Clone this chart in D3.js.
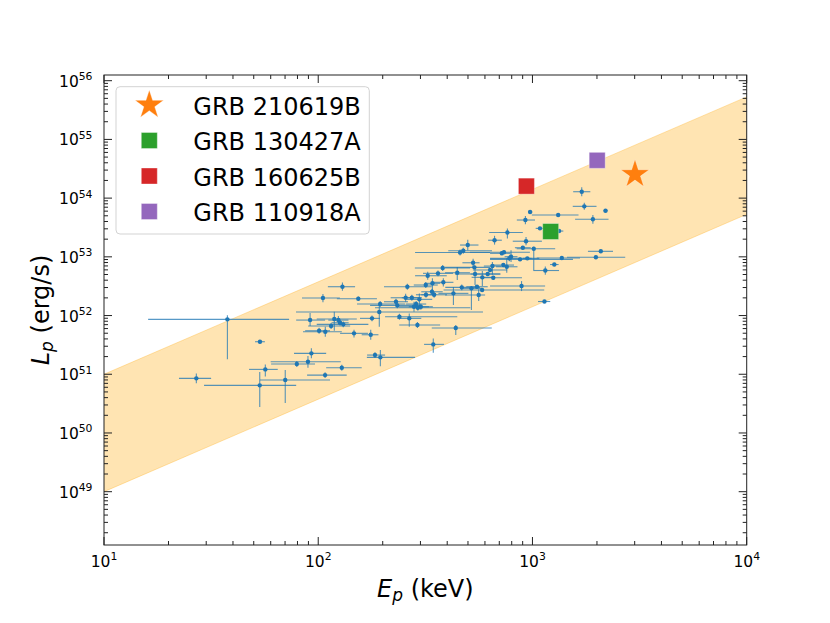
<!DOCTYPE html>
<html>
<head>
<meta charset="utf-8">
<script src="https://cdn.jsdelivr.net/npm/d3@7"></script>
<style>
  body { margin: 0; background: #fff; }
  svg { font-family: 'DejaVu Sans', sans-serif; }
</style>
</head>
<body>
<svg id="chart"></svg>
<script>
// sample: log10 Ep (keV), log10 Lp (erg/s), errors in dex (lo / hi)
const logEp = [1.576, 1.728, 1.431, 1.753, 1.727, 1.846, 1.900, 1.952, 2.113, 2.022,
  2.187, 1.962, 2.075, 2.094, 2.102, 2.117, 2.060, 2.004, 2.033, 2.167,
  2.245, 2.251, 2.285, 2.289, 2.363, 2.369, 2.408, 2.416, 2.437, 2.447,
  2.457, 2.465, 2.472, 2.479, 2.503, 2.502, 2.533, 2.541, 2.531, 2.511,
  2.559, 2.581, 2.584, 2.631, 2.649, 2.670, 2.662, 2.677, 2.698, 2.379,
  2.425, 2.463, 2.642, 2.537, 2.265, 2.290, 1.968, 2.110, 2.032, 3.242,
  3.230, 3.341, 2.989, 3.120, 2.967, 3.282, 3.035, 3.124, 2.883, 2.823,
  2.970, 2.955, 3.006, 2.857, 2.867, 2.900, 2.892, 2.942, 2.976, 3.137,
  3.319, 3.296, 3.102, 3.060, 2.949, 3.056, 2.723, 2.729, 2.813, 2.802,
  2.864, 2.880, 2.732, 2.766, 2.791, 2.817, 2.715, 2.741, 2.765, 2.749]
const logLp = [51.935, 51.554, 50.930, 51.083, 50.811, 50.901, 51.174, 51.213, 52.491, 52.298,
  52.286, 51.923, 51.940, 51.923, 51.877, 51.850, 51.821, 51.741, 51.724, 51.697,
  51.673, 51.952, 52.060, 52.196, 52.235, 52.174, 52.303, 52.491, 52.303, 52.150,
  52.196, 52.133, 52.276, 52.150, 52.354, 52.520, 52.549, 52.354, 52.405, 52.678,
  52.719, 52.809, 52.566, 52.378, 52.729, 52.480, 53.073, 53.104, 53.201, 51.980,
  51.952, 51.838, 51.787, 51.509, 51.327, 51.288, 51.356, 51.111, 50.986, 53.860,
  54.109, 53.785, 53.763, 53.712, 53.627, 53.639, 53.485, 53.439, 53.414, 53.283,
  53.266, 53.155, 53.138, 53.060, 53.077, 53.002, 52.974, 52.957, 52.974, 52.980,
  53.094, 52.993, 52.869, 52.767, 52.502, 52.239, 52.899, 52.821, 52.843, 52.775,
  52.860, 52.831, 52.707, 52.651, 52.707, 52.644, 52.463, 52.491, 52.434, 52.349]
const epErrLo = [0.370, 0.023, 0.081, 0.076, 0.260, 0.118, 0.120, 0.174, 0.068, 0.098,
  0.100, 0.065, 0.082, 0.047, 0.040, 0.124, 0.107, 0.065, 0.104, 0.065,
  0.042, 0.056, 0.389, 0.108, 0.056, 0.127, 0.070, 0.109, 0.047, 0.070,
  0.047, 0.200, 0.060, 0.056, 0.047, 0.056, 0.037, 0.060, 0.050, 0.059,
  0.070, 0.130, 0.047, 0.070, 0.057, 0.077, 0.210, 0.070, 0.036, 0.067,
  0.056, 0.085, 0.112, 0.043, 0.037, 0.063, 0.081, 0.073, 0.084, 0.054,
  0.040, 0.010, 0.010, 0.123, 0.040, 0.083, 0.020, 0.020, 0.085, 0.030,
  0.062, 0.037, 0.080, 0.055, 0.159, 0.030, 0.090, 0.140, 0.020, 0.117,
  0.060, 0.135, 0.020, 0.056, 0.147, 0.030, 0.050, 0.137, 0.040, 0.080,
  0.050, 0.050, 0.093, 0.050, 0.080, 0.062, 0.050, 0.050, 0.180, 0.157]
const epErrHi = [0.288, 0.023, 0.069, 0.058, 0.170, 0.209, 0.085, 0.153, 0.059, 0.079,
  0.087, 0.070, 0.105, 0.047, 0.040, 0.117, 0.089, 0.051, 0.077, 0.065,
  0.036, 0.037, 0.484, 0.117, 0.056, 0.106, 0.070, 0.114, 0.047, 0.070,
  0.047, 0.245, 0.060, 0.056, 0.047, 0.056, 0.037, 0.060, 0.050, 0.089,
  0.070, 0.128, 0.047, 0.070, 0.059, 0.085, 0.140, 0.134, 0.050, 0.270,
  0.056, 0.106, 0.168, 0.050, 0.047, 0.162, 0.069, 0.093, 0.101, 0.057,
  0.040, 0.010, 0.010, 0.095, 0.045, 0.073, 0.020, 0.020, 0.072, 0.034,
  0.074, 0.037, 0.100, 0.040, 0.121, 0.030, 0.140, 0.247, 0.020, 0.085,
  0.057, 0.137, 0.020, 0.064, 0.110, 0.027, 0.030, 0.073, 0.040, 0.080,
  0.050, 0.050, 0.117, 0.050, 0.060, 0.134, 0.050, 0.050, 0.290, 0.030]
const lpErrLo = [0.680, 0.030, 0.085, 0.120, 0.370, 0.390, 0.050, 0.100, 0.070, 0.070,
  0.040, 0.100, 0.200, 0.070, 0.050, 0.050, 0.050, 0.050, 0.085, 0.070,
  0.085, 0.050, 0.250, 0.050, 0.050, 0.050, 0.070, 0.050, 0.050, 0.085,
  0.050, 0.050, 0.153, 0.050, 0.050, 0.050, 0.170, 0.050, 0.050, 0.070,
  0.050, 0.050, 0.070, 0.200, 0.125, 0.050, 0.050, 0.050, 0.090, 0.050,
  0.143, 0.050, 0.120, 0.143, 0.050, 0.150, 0.085, 0.050, 0.050, 0.060,
  0.075, 0.010, 0.010, 0.030, 0.070, 0.075, 0.020, 0.020, 0.100, 0.075,
  0.070, 0.030, 0.365, 0.030, 0.030, 0.090, 0.050, 0.030, 0.020, 0.030,
  0.030, 0.030, 0.020, 0.070, 0.085, 0.020, 0.070, 0.030, 0.150, 0.030,
  0.030, 0.100, 0.187, 0.148, 0.030, 0.030, 0.370, 0.030, 0.030, 0.100]
const lpErrHi = [0.070, 0.030, 0.085, 0.085, 0.227, 0.170, 0.050, 0.100, 0.070, 0.070,
  0.040, 0.120, 0.125, 0.070, 0.050, 0.050, 0.050, 0.050, 0.085, 0.060,
  0.085, 0.050, 0.120, 0.050, 0.050, 0.050, 0.070, 0.050, 0.050, 0.085,
  0.050, 0.050, 0.100, 0.050, 0.050, 0.050, 0.085, 0.050, 0.050, 0.070,
  0.050, 0.050, 0.070, 0.110, 0.100, 0.050, 0.050, 0.050, 0.090, 0.050,
  0.085, 0.050, 0.050, 0.100, 0.050, 0.125, 0.085, 0.050, 0.050, 0.060,
  0.075, 0.010, 0.010, 0.030, 0.070, 0.075, 0.020, 0.020, 0.070, 0.075,
  0.070, 0.030, 0.035, 0.030, 0.030, 0.110, 0.050, 0.030, 0.020, 0.030,
  0.030, 0.030, 0.020, 0.070, 0.085, 0.020, 0.070, 0.030, 0.070, 0.030,
  0.030, 0.150, 0.136, 0.107, 0.030, 0.030, 0.040, 0.030, 0.030, 0.100]

// highlighted bursts
const grbNames = ['GRB 210619B', 'GRB 130427A', 'GRB 160625B', 'GRB 110918A']
const grbEp = [3010, 1216, 937, 2005]
const grbLp = [2.54e54, 2.7e53, 1.6e54, 4.4e54]
const grbColors = ['#ff7f0e', '#2ca02c', '#d62728', '#9467bd']
const grbShapes = ['star', 'square', 'square', 'square']

// band edges
const bandEp = [10, 1e4]
const bandUpper = [1e51, 5.3e55]
const bandLower = [1e49, 5.3e53]

const xTickExp = [1, 2, 3, 4]
const yTickExp = [49, 50, 51, 52, 53, 54, 55, 56]

const width = 830
const height = 623
const margin = { top: 75, right: 83.3, bottom: 78, left: 104 }

const svg = d3.select('#chart').attr('width', width).attr('height', height)

const xScale = d3.scaleLog()
  .domain([10, 1e4])
  .range([margin.left, width - margin.right])
const yScale = d3.scaleLog()
  .domain([Math.pow(10, 48.092), Math.pow(10, 56.097)])
  .range([height - margin.bottom, margin.top])

const x0 = margin.left
const x1 = width - margin.right
const y0 = height - margin.bottom
const y1 = margin.top

// band
const area = d3.area()
  .x((d, i) => xScale(bandEp[i]))
  .y0((d, i) => yScale(bandLower[i]))
  .y1((d, i) => yScale(bandUpper[i]))
svg.append('path')
  .attr('d', area(bandEp))
  .attr('fill', 'orange')
  .attr('fill-opacity', 0.3)
const edge = d3.line().x((d, i) => xScale(bandEp[i])).y(d => yScale(d))
;[bandUpper, bandLower].forEach(b => {
  svg.append('path')
    .attr('d', edge(b))
    .attr('fill', 'none')
    .attr('stroke', 'orange')
    .attr('stroke-opacity', 0.3)
    .attr('stroke-width', 1)
})

// error bars + points
const pts = logEp.map((e, i) => ({
  e, l: logLp[i],
  exl: epErrLo[i], exh: epErrHi[i], eyl: lpErrLo[i], eyh: lpErrHi[i]
}))
const p10 = v => Math.pow(10, v)
const gErr = svg.append('g')
  .attr('stroke', '#1f77b4')
  .attr('stroke-width', 1.1)
  .attr('stroke-opacity', 0.75)
gErr.selectAll('line.h')
  .data(pts).enter().append('line')
  .attr('x1', d => xScale(p10(d.e - d.exl)))
  .attr('x2', d => xScale(p10(d.e + d.exh)))
  .attr('y1', d => yScale(p10(d.l)))
  .attr('y2', d => yScale(p10(d.l)))
gErr.selectAll('line.v')
  .data(pts).enter().append('line')
  .attr('x1', d => xScale(p10(d.e)))
  .attr('x2', d => xScale(p10(d.e)))
  .attr('y1', d => yScale(p10(d.l - d.eyl)))
  .attr('y2', d => yScale(p10(d.l + d.eyh)))
svg.append('g')
  .selectAll('circle')
  .data(pts).enter().append('circle')
  .attr('cx', d => xScale(p10(d.e)))
  .attr('cy', d => yScale(p10(d.l)))
  .attr('r', 2.2)
  .attr('fill', '#1f77b4')

// highlighted markers
const starSym = d3.symbol().type(d3.symbolStar).size(15 * 15 / 0.8908)
const sqSym = d3.symbol().type(d3.symbolSquare).size(16 * 16)
const sym = s => (s === 'star' ? starSym : sqSym)()
grbNames.forEach((n, i) => {
  svg.append('path')
    .attr('d', sym(grbShapes[i]))
    .attr('transform', `translate(${xScale(grbEp[i])},${yScale(grbLp[i])})`)
    .attr('fill', grbColors[i])
    .attr('stroke', '#fff')
    .attr('stroke-opacity', 0.35)
    .attr('stroke-width', 1)
})

// frame
svg.append('rect')
  .attr('x', x0).attr('y', y1)
  .attr('width', x1 - x0).attr('height', y0 - y1)
  .attr('fill', 'none')
  .attr('stroke', '#222')
  .attr('stroke-width', 1)

// ticks (inward, all sides)
const minor = []
const xMinor = []
for (let e = 48; e <= 56; e++) {
  for (let m = 1; m < 10; m++) minor.push({ v: m * Math.pow(10, e), major: m === 1 })
}
for (let e = 1; e <= 4; e++) {
  for (let m = 1; m < 10; m++) xMinor.push({ v: m * Math.pow(10, e), major: m === 1 })
}
const yDom = yScale.domain()
const gTicks = svg.append('g').attr('stroke', '#222').attr('stroke-width', 1)
minor.filter(t => t.v >= yDom[0] && t.v <= yDom[1]).forEach(t => {
  const y = yScale(t.v)
  const len = t.major ? 8 : 4
  gTicks.append('line').attr('x1', x0).attr('x2', x0 + len).attr('y1', y).attr('y2', y)
  gTicks.append('line').attr('x1', x1).attr('x2', x1 - len).attr('y1', y).attr('y2', y)
})
xMinor.filter(t => t.v >= 10 && t.v <= 1e4).forEach(t => {
  const x = xScale(t.v)
  const len = t.major ? 8 : 4
  gTicks.append('line').attr('x1', x).attr('x2', x).attr('y1', y0).attr('y2', y0 - len)
  gTicks.append('line').attr('x1', x).attr('x2', x).attr('y1', y1).attr('y2', y1 + len)
})

// tick labels
yTickExp.forEach(e => {
  const t = svg.append('text')
    .attr('x', x0 - 11.5)
    .attr('y', yScale(Math.pow(10, e)) + 6)
    .attr('text-anchor', 'end')
    .attr('font-size', 15.5)
    .attr('fill', '#000')
  t.append('tspan').text('10')
  t.append('tspan').attr('dy', -6.5).attr('font-size', 10.8).text(e)
})
xTickExp.forEach(e => {
  const t = svg.append('text')
    .attr('x', xScale(Math.pow(10, e)))
    .attr('y', y0 + 21.7)
    .attr('text-anchor', 'middle')
    .attr('font-size', 15.5)
    .attr('fill', '#000')
  t.append('tspan').text('10')
  t.append('tspan').attr('dy', -6.5).attr('font-size', 10.8).text(e)
})

// axis labels
const xl = svg.append('text')
  .attr('x', (x0 + x1) / 2)
  .attr('y', 596.5)
  .attr('text-anchor', 'middle')
  .attr('font-size', 24)
xl.append('tspan').attr('font-style', 'italic').text('E')
xl.append('tspan').attr('font-style', 'italic').attr('font-size', 17).attr('dy', 4.5).text('p')
xl.append('tspan').attr('dy', -4.5).text(' (keV)')

const yl = svg.append('text')
  .attr('transform', `translate(48.5,${(y0 + y1) / 2}) rotate(-90)`)
  .attr('text-anchor', 'middle')
  .attr('font-size', 24)
yl.append('tspan').attr('font-style', 'italic').text('L')
yl.append('tspan').attr('font-style', 'italic').attr('font-size', 17).attr('dy', 4.5).text('p')
yl.append('tspan').attr('dy', -4.5).text(' (erg/s)')

// legend
const lg = svg.append('g')
lg.append('rect')
  .attr('x', 116).attr('y', 86.7)
  .attr('width', 253.3).attr('height', 147.3)
  .attr('rx', 4)
  .attr('fill', '#fff')
  .attr('fill-opacity', 0.8)
  .attr('stroke', '#d3d3d3')
  .attr('stroke-width', 1)
grbNames.forEach((n, i) => {
  const cy = 105 + i * 35.5
  lg.append('path')
    .attr('d', sym(grbShapes[i]))
    .attr('transform', `translate(149.3,${cy})`)
    .attr('fill', grbColors[i])
    .attr('stroke', '#fff')
    .attr('stroke-opacity', 0.35)
  lg.append('text')
    .attr('x', 193.3)
    .attr('y', cy + 9.5)
    .attr('font-size', 24)
    .attr('fill', '#000')
    .text(n)
})
</script>
</body>
</html>
